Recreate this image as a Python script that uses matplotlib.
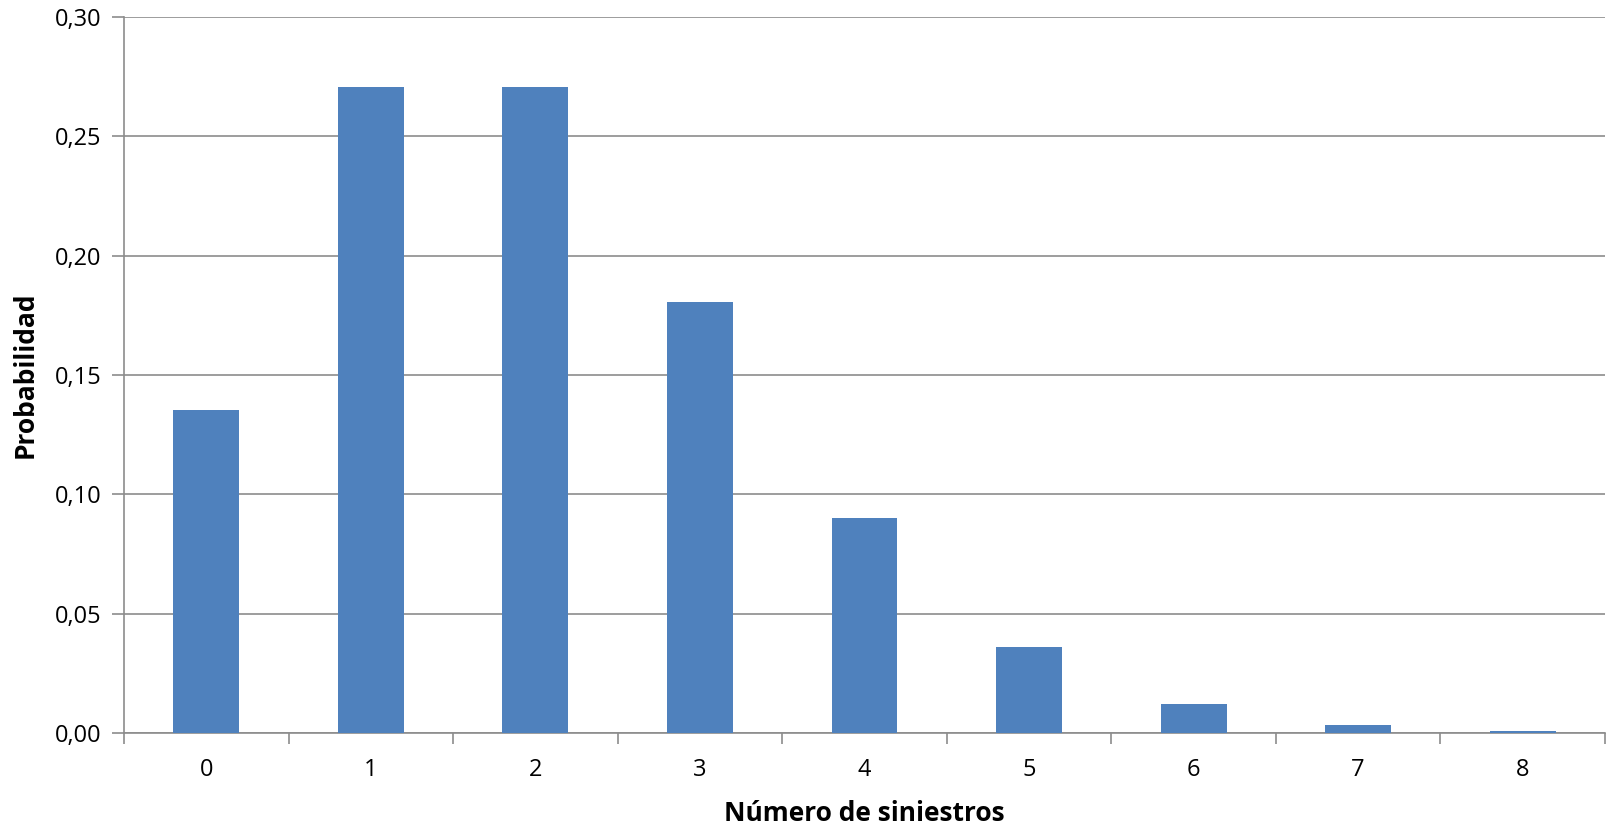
import matplotlib.pyplot as plt
from matplotlib.ticker import FixedLocator, FuncFormatter

siniestros = [0, 1, 2, 3, 4, 5, 6, 7, 8]
probabilidad = [0.1353, 0.2707, 0.2707, 0.1804, 0.0902, 0.0361, 0.0120, 0.0034, 0.0009]

plt.rcParams['font.family'] = ['Open Sans', 'DejaVu Sans']

fig = plt.figure(figsize=(16.07, 8.25), dpi=100)
ax = fig.add_axes([124 / 1607, 1 - 733 / 825, (1605 - 124) / 1607, (733 - 17) / 825])

ax.bar(siniestros, probabilidad, width=0.4, color='#4F81BD', zorder=3)

ax.set_xlim(-0.5, len(siniestros) - 0.5)
ax.set_ylim(0, 0.30)
ax.set_yticks([0, 0.05, 0.10, 0.15, 0.20, 0.25, 0.30])
ax.yaxis.set_major_formatter(FuncFormatter(lambda v, p: f"{v:.2f}".replace('.', ',')))
ax.grid(axis='y', color='#8c8c8c', linewidth=1.2, zorder=0)

# tick marks between categories, labels centred under bars
ax.xaxis.set_major_locator(FixedLocator([i - 0.5 for i in range(len(siniestros) + 1)]))
ax.xaxis.set_minor_locator(FixedLocator(siniestros))
ax.set_xticklabels([], minor=False)
ax.set_xticklabels([str(s) for s in siniestros], minor=True)
ax.tick_params(axis='x', which='major', length=8, width=1.2, color='#8c8c8c')
ax.tick_params(axis='x', which='minor', length=0, pad=18, labelsize=17)
ax.tick_params(axis='y', length=9, width=1.2, color='#8c8c8c', labelsize=17, pad=7)

for side in ['top', 'right']:
    ax.spines[side].set_visible(False)
for side in ['left', 'bottom']:
    ax.spines[side].set_color('#8c8c8c')
    ax.spines[side].set_linewidth(1.2)

ax.set_xlabel('Número de siniestros', fontsize=19, fontweight='bold', labelpad=13)
ax.set_ylabel('Probabilidad', fontsize=19, fontweight='bold', labelpad=12)

fig.savefig('out.png', dpi=100)
